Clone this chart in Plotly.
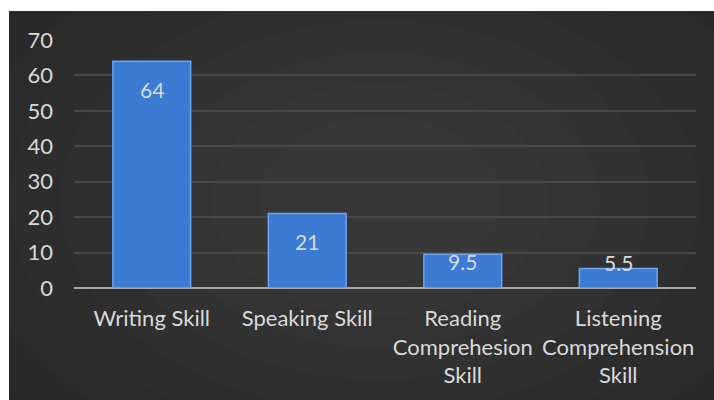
import plotly.graph_objects as go

categories = ["Writing Skill", "Speaking Skill", "Reading<br>Comprehesion<br>Skill", "Listening<br>Comprehension<br>Skill"]
values = [64, 21, 9.5, 5.5]
value_labels = ["64", "21", "9.5", "5.5"]
y_ticks = [0, 10, 20, 30, 40, 50, 60, 70]

W, H = 714, 400
ML, MR, MT, MB = 74, 18, 40, 112
pw, ph = W - ML - MR, H - MT - MB

def px_x(p):
    return (p - ML) / pw

def px_y(p):
    return (H - MB - p) / ph

fig = go.Figure()

fig.add_trace(go.Bar(
    x=categories, y=values, width=0.5,
    marker=dict(color="#3b7bd4", line=dict(color="#6ea6ef", width=1.5)),
    hoverinfo="skip",
))

shapes = []
shapes.append(dict(type="rect", xref="paper", yref="paper",
                   x0=px_x(9), x1=px_x(W + 2), y0=px_y(H + 2), y1=px_y(11),
                   fillcolor="#252525", line=dict(width=0), layer="below"))
cx, cy = 380, 200
n = 9
for i in range(n):
    rx = 520 - i * 50
    ry = 340 - i * 32
    shapes.append(dict(type="circle", xref="paper", yref="paper",
                       x0=px_x(cx - rx), x1=px_x(cx + rx),
                       y0=px_y(cy + ry), y1=px_y(cy - ry),
                       fillcolor="rgba(255,255,255,0.01)", line=dict(width=0), layer="below"))

annotations = []
for c, v, lab in zip(categories, values, value_labels):
    if v > 15:
        shift = -28
    elif v > 8:
        shift = -7
    else:
        shift = 6
    annotations.append(dict(x=c, y=v, xref="x", yref="y", text=lab, showarrow=False,
                            yanchor="middle", yshift=shift,
                            font=dict(family="Lato", size=21, color="#d9d9d9")))

fig.update_layout(
    width=W, height=H,
    margin=dict(l=ML, r=MR, t=MT, b=MB),
    paper_bgcolor="white",
    plot_bgcolor="rgba(0,0,0,0)",
    showlegend=False,
    shapes=shapes,
    annotations=annotations,
    font=dict(family="Lato", size=22, color="#d9d9d9"),
    xaxis=dict(showgrid=False, showline=False, ticks="", ticklabelstandoff=15,
               tickfont=dict(size=22, color="#d9d9d9"), fixedrange=True),
    yaxis=dict(range=[0, 70], tickvals=y_ticks, showgrid=True, gridcolor="#474747", gridwidth=1.5,
               zeroline=True, zerolinecolor="#a6a6a6", zerolinewidth=2,
               showline=False, ticks="", ticklabelstandoff=20,
               tickfont=dict(size=22, color="#d9d9d9"), fixedrange=True),
    bargap=0.5,
)

fig.write_html("out.html")
